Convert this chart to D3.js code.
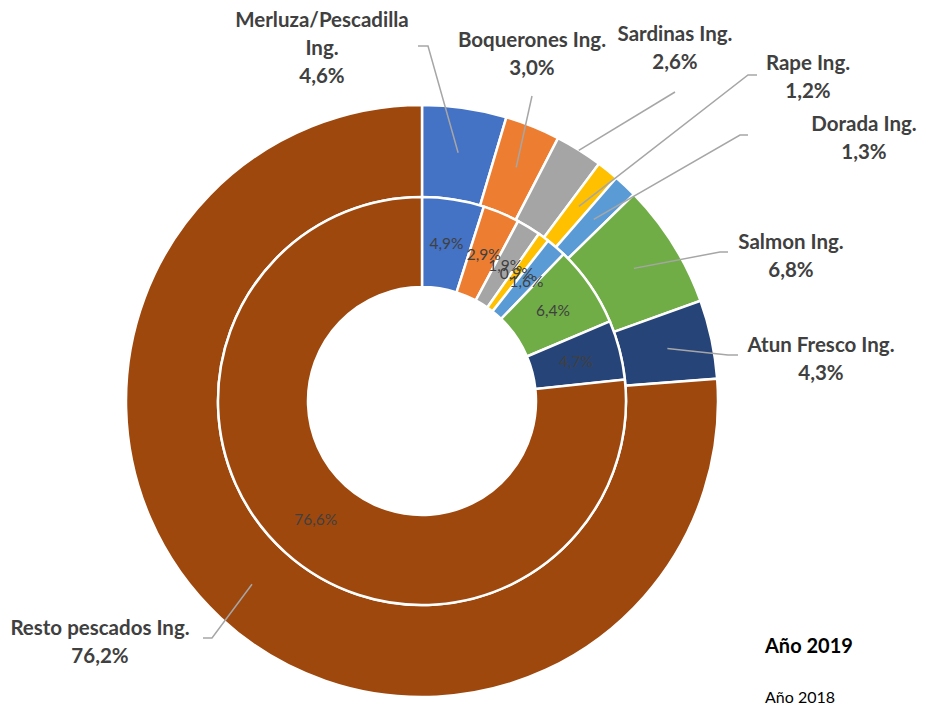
<!DOCTYPE html>
<html><head><meta charset="utf-8">
<script src="https://cdn.jsdelivr.net/npm/d3@7"></script>
<style>
body{margin:0;background:#fff;}
svg{display:block;font-family:Lato,"Open Sans",sans-serif;}
</style></head>
<body><svg id="c" width="935" height="706"></svg>
<script>
const categories = ["Merluza/Pescadilla Ing.","Boquerones Ing.","Sardinas Ing.","Rape Ing.","Dorada Ing.","Salmon Ing.","Atun Fresco Ing.","Resto pescados Ing."];
const values2019 = [4.6,3.0,2.6,1.2,1.3,6.8,4.3,76.2];
const values2018 = [4.9,2.9,1.9,0.9,1.6,6.4,4.7,76.6];
const colors = ["#4472C4","#ED7D31","#A5A5A5","#FFC000","#5B9BD5","#70AD47","#264478","#9E480E"];
const seriesNames = ["Año 2019","Año 2018"];

// label layout for outer ring (text lines, anchor position, leader polyline end points)
const outerLabelLines = [
  ["Merluza/Pescadilla","Ing."],["Boquerones Ing."],["Sardinas Ing."],["Rape Ing."],
  ["Dorada Ing."],["Salmon Ing."],["Atun Fresco Ing."],["Resto pescados Ing."]
];
const labelPos = [[322,20],[532,40],[675,34],[808,63],[864,124],[791,242],[821,345],[100,628]];
const leaderStart = [[418,46,428],[532,96,532],[675,92,675],[757,75,748],[748,135,740],[728,252,720],[738,355,728],[203,638,212]];
const leaderRadius = [0.51,0.52,0.995,0.5,0.5,0.5,0.51,0.5];

const svg = d3.select("#c");
const cx = 422, cy = 401;
const R1 = 296, R2 = 204, R3 = 114;
const g = svg.append("g").attr("transform",`translate(${cx},${cy})`);

const pie = d3.pie().sort(null).value(d=>d);
const arcsOuter = pie(values2019);
const arcsInner = pie(values2018);
const arcOuter = d3.arc().innerRadius(R2).outerRadius(R1);
const arcInner = d3.arc().innerRadius(R3).outerRadius(R2);

g.selectAll("path.o").data(arcsOuter).join("path").attr("class","o")
  .attr("d",arcOuter).attr("fill",(d,i)=>colors[i]).attr("stroke","#fff").attr("stroke-width",2.5);
g.selectAll("path.i").data(arcsInner).join("path").attr("class","i")
  .attr("d",arcInner).attr("fill",(d,i)=>colors[i]).attr("stroke","#fff").attr("stroke-width",2.5);

const fmt = v => v.toFixed(1).replace(".",",")+"%";

// inner labels
const cArc = d3.arc().innerRadius(R3).outerRadius(R2);
g.selectAll("text.il").data(arcsInner).join("text").attr("class","il")
  .attr("transform",d=>`translate(${cArc.centroid(d)})`)
  .attr("text-anchor","middle").attr("dy","0.35em")
  .attr("font-size",15.5).attr("fill","#404040")
  .text(d=>fmt(d.data));

// leader lines
const lg = svg.append("g");
arcsOuter.forEach((d,i)=>{
  const a = (d.startAngle+d.endAngle)/2;
  const r = R2 + (R1-R2)*leaderRadius[i];
  const ex = cx + r*Math.sin(a), ey = cy - r*Math.cos(a);
  const s = leaderStart[i];
  lg.append("polyline").attr("points",`${s[0]},${s[1]} ${s[2]},${s[1]} ${ex},${ey}`)
    .attr("fill","none").attr("stroke","#A6A6A6").attr("stroke-width",1.5);
});

// outer labels
const tg = svg.append("g").attr("font-weight","bold").attr("font-size",20.5).attr("fill","#404040").attr("text-anchor","middle");
arcsOuter.forEach((d,i)=>{
  const lines = outerLabelLines[i].concat([fmt(d.data)]);
  const t = tg.append("text").attr("x",labelPos[i][0]).attr("y",labelPos[i][1]);
  lines.forEach((l,j)=>t.append("tspan").attr("x",labelPos[i][0]).attr("dy",j===0?"0.35em":"28px").text(l));
});

// series titles
svg.append("text").attr("x",765).attr("y",653).attr("font-weight","bold").attr("font-size",20).attr("fill","#000").text(seriesNames[0]);
svg.append("text").attr("x",765).attr("y",703).attr("font-size",16).attr("fill","#000").text(seriesNames[1]);
</script></body></html>
